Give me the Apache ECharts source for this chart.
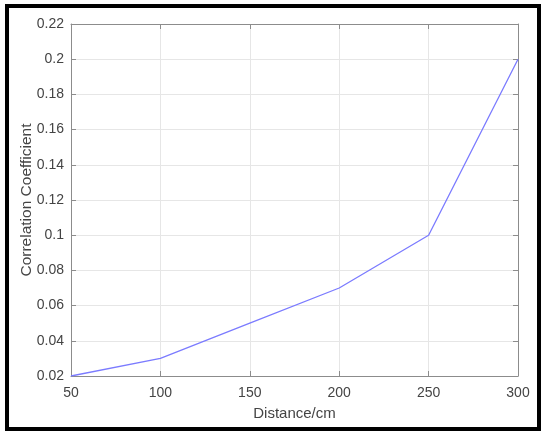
<!DOCTYPE html>
<html>
<head>
<meta charset="utf-8">
<script src="https://cdn.jsdelivr.net/npm/echarts@6/dist/echarts.min.js"></script>
<style>
  html, body { margin: 0; padding: 0; background: #fff; }
  #chart { width: 550px; height: 437px; }
</style>
</head>
<body>
<div id="chart"></div>
<script>
// distance (cm) vs correlation coefficient
const distances = [50, 100, 150, 200, 250, 300];
const coefficients = [0.02, 0.03, 0.05, 0.07, 0.1, 0.2];

const textColor = "#444";
const axisColor = "#8c8c8c";
const font = "Liberation Sans, Arial, sans-serif";

const chart = echarts.init(document.getElementById("chart"));

const boxAxis = {
	axisLine: { show: true, lineStyle: { color: axisColor, width: 1 } },
	axisTick: { show: true, inside: true, length: 5, lineStyle: { color: axisColor } },
	axisLabel: { show: false },
	splitLine: { show: false },
};

chart.setOption({
	animation: false,
	backgroundColor: "#fff",
	grid: { left: 71, right: 32, top: 24, bottom: 61 },
	graphic: [
		{
			type: "rect",
			shape: { x: 7, y: 6, width: 532, height: 423 },
			style: { fill: "none", stroke: "#000", lineWidth: 4 },
			silent: true,
		},
	],
	xAxis: [
		{
			type: "value",
			min: 50,
			max: 300,
			interval: 50,
			name: "Distance/cm",
			nameLocation: "middle",
			nameGap: 30,
			nameMoveOverlap: false,
			nameTextStyle: { color: textColor, fontSize: 15, fontFamily: font },
			axisLine: { show: true, lineStyle: { color: axisColor } },
			axisTick: { show: true, inside: true, length: 5, lineStyle: { color: axisColor } },
			axisLabel: { color: textColor, fontSize: 14, fontFamily: font, margin: 10 },
			splitLine: { show: true, lineStyle: { color: "#e6e6e6" } },
		},
		Object.assign({ type: "value", min: 50, max: 300, interval: 50, position: "top" }, boxAxis),
	],
	yAxis: [
		{
			type: "value",
			min: 0.02,
			max: 0.22,
			interval: 0.02,
			name: "Correlation Coefficient",
			nameLocation: "middle",
			nameGap: 36,
			nameMoveOverlap: false,
			nameTextStyle: { color: textColor, fontSize: 15.5, fontFamily: font },
			axisLine: { show: true, lineStyle: { color: axisColor } },
			axisTick: { show: true, inside: true, length: 5, lineStyle: { color: axisColor } },
			axisLabel: {
				color: textColor,
				fontSize: 14,
				fontFamily: font,
				margin: 7,
				formatter: (v) => String(parseFloat(v.toFixed(2))),
			},
			splitLine: { show: true, lineStyle: { color: "#e6e6e6" } },
		},
		Object.assign({ type: "value", min: 0.02, max: 0.22, interval: 0.02, position: "right" }, boxAxis),
	],
	series: [
		{
			type: "line",
			data: distances.map((d, i) => [d, coefficients[i]]),
			symbol: "none",
			lineStyle: { color: "#7b7bff", width: 1.3 },
		},
	],
});
</script>
</body>
</html>
